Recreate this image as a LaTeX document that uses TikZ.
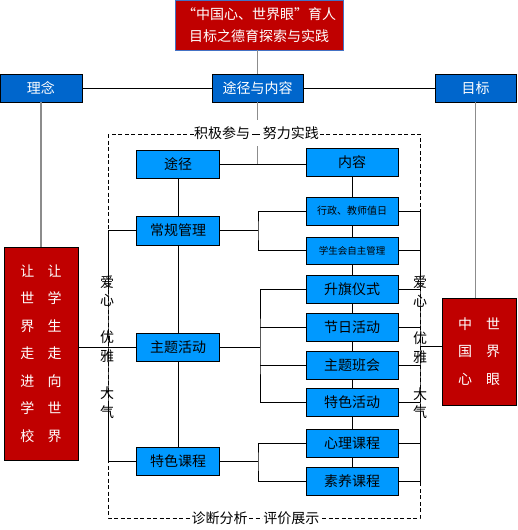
\documentclass[tikz,border=0pt]{standalone}
\usepackage{fontspec}
\setmainfont{Noto Sans CJK SC}
\usetikzlibrary{calc}
\definecolor{darkred}{HTML}{C00000}
\definecolor{midblue}{HTML}{0066CC}
\definecolor{lightblue}{HTML}{0099FF}
\definecolor{topborder}{HTML}{4472C4}
\begin{document}
\begin{tikzpicture}[x=1pt,y=-1pt,
 base/.style={draw=black, line width=0.8pt, inner sep=0pt, font=\fontsize{14}{16}\selectfont},
 headbox/.style={base, fill=midblue, text=white},
 itembox/.style={base, fill=lightblue, text=black, minimum height=28pt},
 redbox/.style={base, fill=darkred, text=white, align=center, font=\fontsize{14}{27.5}\selectfont},
 conn/.style={line width=0.9pt},
 grayconn/.style={line width=1.5pt, draw=black!45},
 vtext/.style={font=\fontsize{14}{18.6}\selectfont, align=center, inner sep=0pt},
 frame/.style={line width=0.8pt, dash pattern=on 4pt off 2.5pt},
 lbl/.style={fill=white, font=\fontsize{14}{16}\selectfont, inner sep=0.5pt, minimum height=26pt}
]
\useasboundingbox (0,0) rectangle (517,530);

% frame
\draw[frame] (108,134) rectangle (420,518);

% top level boxes
\node[base, draw=topborder, fill=darkred, text=white, align=center, font=\fontsize{14}{21.5}\selectfont,
  minimum width=168pt, minimum height=50pt] (top) at (259,25) {“中国心、世界眼”育人\\目标之德育探索与实践};
\node[headbox, minimum width=82pt, minimum height=28pt] (linian) at (41,88) {理念};
\node[headbox, minimum width=91pt, minimum height=28pt] (tyn) at (257.5,88) {途径与内容};
\node[headbox, minimum width=81pt, minimum height=28pt] (mubiao) at (475.5,88) {目标};

% red side boxes
\node[redbox, minimum width=74pt, minimum height=213pt] (leftred) at (41,353.5)
  {让\hspace{13.5pt}让\\世\hspace{13.5pt}学\\界\hspace{13.5pt}生\\走\hspace{13.5pt}走\\进\hspace{13.5pt}向\\学\hspace{13.5pt}世\\校\hspace{13.5pt}界};
\node[redbox, minimum width=74pt, minimum height=107pt] (rightred) at (479,351.5)
  {中\hspace{14pt}世\\国\hspace{14pt}界\\心\hspace{14pt}眼};

% left column
\node[itembox, minimum width=83pt] (tujing) at (178,164) {途径};
\node[itembox, minimum width=83pt, minimum height=29pt] (changgui) at (178,230.5) {常规管理};
\node[itembox, minimum width=83pt] (zhuti) at (178,347) {主题活动};
\node[itembox, minimum width=83pt] (tesekc) at (178,461) {特色课程};

% right column
\node[itembox, minimum width=92pt] (neirong) at (352,162) {内容};
\node[itembox, minimum width=92pt, font=\fontsize{10}{12}\selectfont] (xingzheng) at (352,211) {行政、教师值日};
\node[itembox, minimum width=92pt, minimum height=27pt, font=\fontsize{9.5}{12}\selectfont] (xsh) at (352,250.5) {学生会自主管理};
\node[itembox, minimum width=92pt] (shengqi) at (352,289) {升旗仪式};
\node[itembox, minimum width=92pt] (jieri) at (352,327) {节日活动};
\node[itembox, minimum width=92pt] (banhui) at (352,365) {主题班会};
\node[itembox, minimum width=92pt] (tesehd) at (352,402) {特色活动};
\node[itembox, minimum width=92pt] (xinli) at (352,443) {心理课程};
\node[itembox, minimum width=92pt] (suyang) at (352,481) {素养课程};

% coordinates
\coordinate (tj) at (257.5,164);
\coordinate (b1) at (258,230.5);
\coordinate (b2) at (260,347);
\coordinate (b3) at (258,461);
\coordinate (lr) at (108,347);
\coordinate (rr) at (420,346);

% top connectors
\draw[grayconn] (tyn.north |- top.south) -- (tyn.north);
\draw[conn] (linian) -- (tyn);
\draw[conn] (tyn) -- (mubiao);
\draw[grayconn] (linian.south) -- (leftred.north);
\draw[grayconn] (mubiao.south) -- (mubiao.south |- rightred.north);
\draw[grayconn] (tyn.south) -- (tj);
\draw[conn] (tujing.east) -- (tujing.east -| neirong.west);

% left chain
\draw[conn] (tujing) -- (changgui);
\draw[conn] (changgui) -- (zhuti);
\draw[conn] (zhuti) -- (tesekc);

% right chain
\draw[conn] (neirong) -- (xingzheng);
\draw[conn] (xingzheng) -- (xsh);
\draw[conn] (xsh) -- (shengqi);
\draw[conn] (shengqi) -- (jieri);
\draw[conn] (jieri) -- (banhui);
\draw[conn] (banhui) -- (tesehd);
\draw[conn] (tesehd) -- (xinli);
\draw[conn] (xinli) -- (suyang);

% brackets
\draw[conn] (changgui.east) -- (b1);
\draw[conn] (xingzheng.west) -| (b1) |- (xsh.west);
\draw[conn] (zhuti.east) -- (b2);
\draw[conn] (shengqi.west) -| (b2) |- (tesehd.west);
\draw[conn] (jieri.west) -- (jieri.west -| b2);
\draw[conn] (banhui.west) -- (banhui.west -| b2);
\draw[conn] (tesekc.east) -- (b3);
\draw[conn] (xinli.west) -| (b3) |- (suyang.west);

% left rail
\draw[conn] (changgui.west) -| (lr) |- (tesekc.west);
\draw[conn] (zhuti.west -| leftred.east) -- (zhuti.west);

% right rail
\draw[conn] (xingzheng.east) -| (rr) |- (suyang.east);
\draw[conn] (xsh.east) -- (xsh.east -| rr);
\draw[conn] (shengqi.east) -- (shengqi.east -| rr);
\draw[conn] (jieri.east) -- (jieri.east -| rr);
\draw[conn] (banhui.east) -- (banhui.east -| rr);
\draw[conn] (tesehd.east) -- (tesehd.east -| rr);
\draw[conn] (xinli.east) -- (xinli.east -| rr);
\draw[conn] (rr) -- (rr -| rightred.west);

% vertical texts
\node[vtext] (lv) at (107,347) {爱\\心\\~\\优\\雅\\~\\大\\气};
\node[vtext] (rv) at (420,347.5) {爱\\心\\~\\优\\雅\\~\\大\\气};

% frame labels
\node[lbl] (toplbl) at (256.5,133) {积极参与\hspace{13pt}努力实践};
\node[lbl] (botlbl) at (255.5,518) {诊断分析\hspace{16pt}评价展示};
% frame pieces visible between the label words
\draw[line width=0.8pt] (252,134) -- (260,134);
\draw[frame] (249,518) -- (262,518);
\end{tikzpicture}
\end{document}
